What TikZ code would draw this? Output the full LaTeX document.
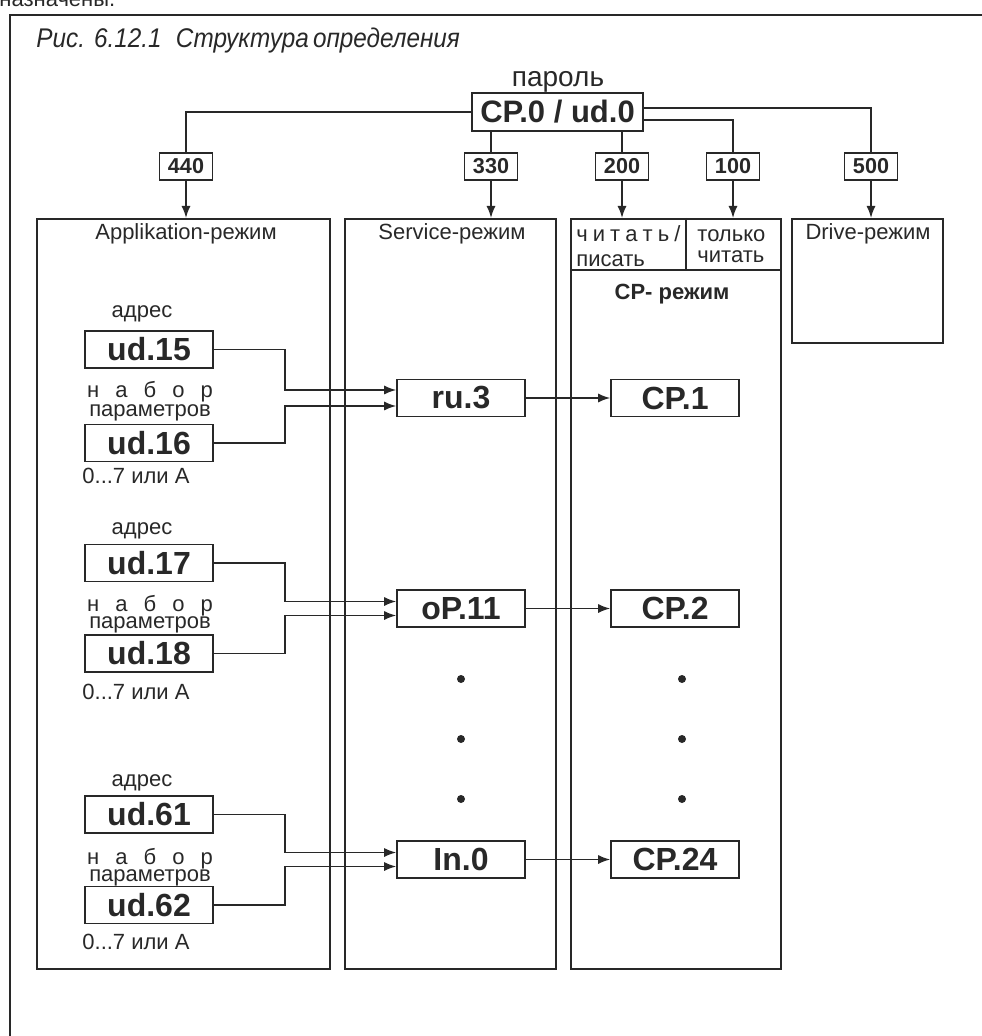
\documentclass[tikz,border=0pt]{standalone}
\usepackage{fontspec}
\setmainfont{Liberation Sans}
\usepackage{tikz}
\usetikzlibrary{arrows.meta}
\definecolor{linegray}{RGB}{40,40,40}

\begin{document}
\begin{tikzpicture}[x=0.5pt, y=-0.5pt,
    every node/.style={inner sep=0pt, text=linegray},
    parbox/.style={draw=linegray, line width=0.8pt, minimum width=64pt, minimum height=18.5pt, font=\bfseries\fontsize{16}{16}\selectfont},
    numbox/.style={draw=linegray, line width=0.8pt, minimum width=26.5pt, minimum height=13.5pt, font=\bfseries\fontsize{10.8}{11}\selectfont},
    modebox/.style={draw=linegray, line width=0.8pt, anchor=north west},
    lbl/.style={anchor=base, font=\fontsize{11}{11}\selectfont},
    wire/.style={draw=linegray, line width=0.75pt},
    arr/.style={wire, -{Latex[length=6pt,width=4.5pt]}}]
    \useasboundingbox (0,0) rectangle (981,1036);

    % frame and caption
    \node[anchor=base west, font=\fontsize{11}{11}\selectfont] (prev) at (-1,7) {назначены.};
    \draw[line width=1.3pt, linegray] (990,15) -- (10,15) -- (10,1045);
    \node[anchor=base west, font=\itshape\fontsize{13.5}{14}\selectfont] (title) at (36,48) {\scalebox{0.9}[1]{Рис. 6.12.1\hspace{8pt}Структура\,определения}};

    % password
    \node[anchor=base, font=\fontsize{14}{14}\selectfont] (pw) at (558,87) {пароль};
    \node[parbox, minimum width=85.5pt, minimum height=19pt, font=\bfseries\fontsize{15.5}{16}\selectfont] (cp0) at (557.5,112) {CP.0 / ud.0};

    % password values
    \node[numbox] (n440) at (186,166.5) {440};
    \node[numbox] (n330) at (491,166.5) {330};
    \node[numbox] (n200) at (622,166.5) {200};
    \node[numbox] (n100) at (733,166.5) {100};
    \node[numbox] (n500) at (871,166.5) {500};

    \draw[wire] (cp0.west) -| (n440.north);
    \draw[wire] (cp0.south -| n330) -- (n330.north);
    \draw[wire] (cp0.south -| n200) -- (n200.north);
    \draw[wire] ([yshift=2pt]cp0.east) -| (n500.north);
    \draw[wire] ([yshift=-4pt]cp0.east) -| (n100.north);

    % modes
    \node[modebox, minimum width=146.5pt, minimum height=375pt] (apl) at (36,218) {};
    \node[modebox, minimum width=105.5pt, minimum height=375pt] (srv) at (344,218) {};
    \node[modebox, minimum width=105pt, minimum height=375pt] (cpm) at (570,218) {};
    \node[modebox, minimum width=75.5pt, minimum height=62pt] (drv) at (791,218) {};
    \draw[wire] (686,218) -- (686,270);
    \draw[wire] (570,270) -- (780,270);

    \draw[arr] (n440.south) -- (n440.south |- apl.north);
    \draw[arr] (n330.south) -- (n330.south |- srv.north);
    \draw[arr] (n200.south) -- (n200.south |- cpm.north);
    \draw[arr] (n100.south) -- (n100.south |- cpm.north);
    \draw[arr] (n500.south) -- (n500.south |- drv.north);

    \node[lbl] at (186,240) {Applikation-режим};
    \node[lbl] at (452,240) {Service-режим};
    \node[lbl] at (868,240) {Drive-режим};
    \node[lbl, anchor=base west] at (576,242) {\makebox[52pt][s]{ч и т а т ь /}};
    \node[lbl, anchor=base west] at (576,267) {писать};
    \node[lbl, anchor=base west] at (697,242) {только};
    \node[lbl, anchor=base west] at (697,263) {читать};
    \node[lbl, font=\bfseries\fontsize{11}{11}\selectfont] at (672,300) {CP- режим};

    % first group
    \node[lbl] at (142,318) {адрес};
    \node[parbox] (ud15) at (149,349.5) {ud.15};
    \node[lbl] at (150,398) {\makebox[63pt][s]{н а б о р}};
    \node[lbl] at (150,417) {параметров};
    \node[parbox] (ud16) at (149,443) {ud.16};
    \node[lbl, anchor=base west] at (82,483) {0...7 или A};
    \node[parbox] (ru3) at (461,398) {ru.3};
    \node[parbox] (cp1) at (675,398) {CP.1};
    \draw[arr] (ud15.east) -- ++(71,0) |- ([yshift=4pt]ru3.west);
    \draw[arr] (ud16.east) -- ++(71,0) |- ([yshift=-4pt]ru3.west);
    \draw[arr] (ru3) -- (cp1);

    % second group
    \node[lbl] at (142,534) {адрес};
    \node[parbox] (ud17) at (149,563) {ud.17};
    \node[lbl] at (150,611) {\makebox[63pt][s]{н а б о р}};
    \node[lbl] at (150,628) {параметров};
    \node[parbox] (ud18) at (149,653.5) {ud.18};
    \node[lbl, anchor=base west] at (82,699) {0...7 или A};
    \node[parbox] (op11) at (461,608.5) {oP.11};
    \node[parbox] (cp2) at (675,608.5) {CP.2};
    \draw[arr] (ud17.east) -- ++(71,0) |- ([yshift=3.5pt]op11.west);
    \draw[arr] (ud18.east) -- ++(71,0) |- ([yshift=-3.5pt]op11.west);
    \draw[arr] (op11) -- (cp2);

    % dots
    \fill[linegray] (461,679) circle (2pt);
    \fill[linegray] (461,739) circle (2pt);
    \fill[linegray] (461,799) circle (2pt);
    \fill[linegray] (682,679) circle (2pt);
    \fill[linegray] (682,739) circle (2pt);
    \fill[linegray] (682,799) circle (2pt);

    % last group
    \node[lbl] at (142,786) {адрес};
    \node[parbox] (ud61) at (149,814.5) {ud.61};
    \node[lbl] at (150,864) {\makebox[63pt][s]{н а б о р}};
    \node[lbl] at (150,881) {параметров};
    \node[parbox] (ud62) at (149,905) {ud.62};
    \node[lbl, anchor=base west] at (82,949) {0...7 или A};
    \node[parbox] (in0) at (461,859.5) {In.0};
    \node[parbox] (cp24) at (675,859.5) {CP.24};
    \draw[arr] (ud61.east) -- ++(71,0) |- ([yshift=3.5pt]in0.west);
    \draw[arr] (ud62.east) -- ++(71,0) |- ([yshift=-3.5pt]in0.west);
    \draw[arr] (in0) -- (cp24);
\end{tikzpicture}
\end{document}
